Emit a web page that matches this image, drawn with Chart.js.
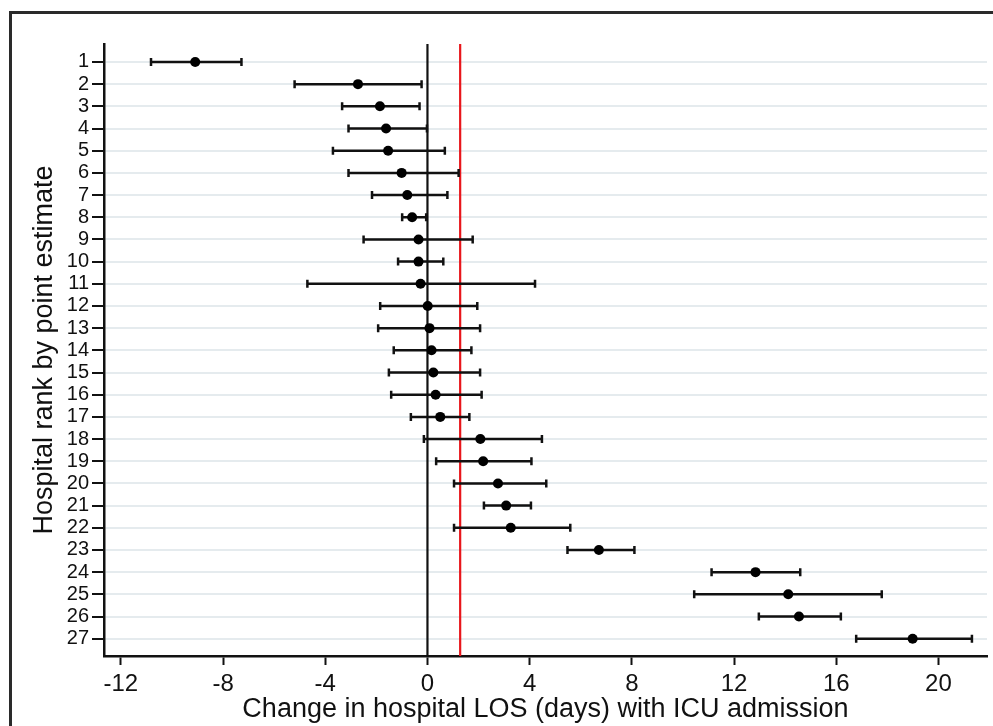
<!DOCTYPE html>
<html>
<head>
<meta charset="utf-8">
<script src="https://cdn.jsdelivr.net/npm/chart.js@4.4.1/dist/chart.umd.min.js"></script>
<style>
body{margin:0;background:#fff;overflow:hidden;}
#wrap{position:relative;width:993px;height:726px;}
#frame{position:absolute;left:9px;top:11px;width:1000px;height:800px;border:3px solid #2a2a2a;pointer-events:none;}
</style>
</head>
<body>
<div id="wrap"><canvas id="chartarea" width="993" height="726"></canvas><div id="frame"></div></div>
<script>
const ranks=[1,2,3,4,5,6,7,8,9,10,11,12,13,14,15,16,17,18,19,20,21,22,23,24,25,26,27];
const estimates=[-9.09,-2.72,-1.86,-1.62,-1.54,-1.01,-0.79,-0.60,-0.35,-0.35,-0.27,0.01,0.08,0.16,0.23,0.32,0.50,2.07,2.18,2.76,3.08,3.26,6.71,12.84,14.12,14.54,18.99];
const lower=[-10.82,-5.20,-3.34,-3.09,-3.70,-3.09,-2.17,-0.99,-2.50,-1.15,-4.70,-1.85,-1.93,-1.32,-1.51,-1.42,-0.65,-0.14,0.34,1.04,2.21,1.04,5.48,11.12,10.44,12.97,16.78];
const upper=[-7.28,-0.23,-0.31,-0.02,0.68,1.22,0.78,-0.05,1.77,0.62,4.21,1.95,2.06,1.72,2.06,2.12,1.64,4.48,4.07,4.65,4.05,5.59,8.10,14.59,17.78,16.18,21.31];
const xTicks=[-12,-8,-4,0,4,8,12,16,20];
const refLines=[0,1.28];
const refColors=["#111111","#e8161b"];
const xTitle="Change in hospital LOS (days) with ICU admission";
const yTitle="Hospital rank by point estimate";

const font="'Liberation Sans', Arial, sans-serif";

// error bars and reference lines, drawn under the points
const errorBars={
  id:"errorBars",
  beforeDatasetsDraw(chart){
    const {ctx,chartArea}=chart;
    const x=chart.scales.x, y=chart.scales.y;
    ctx.save();
    let i=0;
    while(i<refLines.length){
      const px=x.getPixelForValue(refLines[i]);
      ctx.strokeStyle=refColors[i];
      ctx.lineWidth=2.2;
      ctx.beginPath();
      ctx.moveTo(px,chartArea.top);
      ctx.lineTo(px,chartArea.bottom);
      ctx.stroke();
      i++;
    }
    ctx.strokeStyle="#111";
    ctx.lineWidth=2.5;
    i=0;
    while(i<ranks.length){
      const py=y.getPixelForValue(ranks[i]);
      const a=x.getPixelForValue(lower[i]);
      const b=x.getPixelForValue(upper[i]);
      ctx.beginPath();
      ctx.moveTo(a,py);ctx.lineTo(b,py);
      ctx.moveTo(a,py-4);ctx.lineTo(a,py+4);
      ctx.moveTo(b,py-4);ctx.lineTo(b,py+4);
      ctx.stroke();
      i++;
    }
    ctx.restore();
  }
};

const chartarea=document.querySelector("#chartarea");
new Chart(chartarea,{
  type:"scatter",
  data:{
    datasets:[{
      data:ranks.map((r,i)=>({x:estimates[i],y:r})),
      pointRadius:5,
      pointBackgroundColor:"#000",
      pointBorderWidth:0,
      showLine:false
    }]
  },
  options:{
    responsive:false,
    animation:false,
    layout:{padding:{left:0,top:44,right:6,bottom:0}},
    plugins:{legend:{display:false},tooltip:{enabled:false}},
    scales:{
      x:{
        type:"linear",min:-12.66,max:21.9,
        afterBuildTicks:s=>{s.ticks=xTicks.map(v=>({value:v}));},
        afterFit:s=>{s.height=70;},
        grid:{drawOnChartArea:false,tickColor:"#111",tickLength:9,tickWidth:2},
        border:{color:"#111",width:2.5},
        ticks:{color:"#111",font:{family:font,size:24},padding:5,callback:v=>String(v)},
        title:{display:true,text:xTitle,color:"#111",font:{family:font,size:27},padding:{top:0,bottom:0}}
      },
      y:{
        type:"linear",reverse:true,min:0.19,max:27.78,
        afterBuildTicks:s=>{s.ticks=ranks.map(v=>({value:v}));},
        afterFit:s=>{s.width=104;},
        grid:{color:"#e5ebee",lineWidth:2,tickColor:"#111",tickLength:12,tickWidth:2},
        border:{color:"#111",width:2.5},
        ticks:{color:"#111",font:{family:font,size:20},padding:3,autoSkip:false,callback:v=>String(v)},
        title:{display:true,text:yTitle,color:"#111",font:{family:font,size:27},padding:{top:28,bottom:0}}
      }
    }
  },
  plugins:[errorBars]
});
</script>
</body>
</html>
